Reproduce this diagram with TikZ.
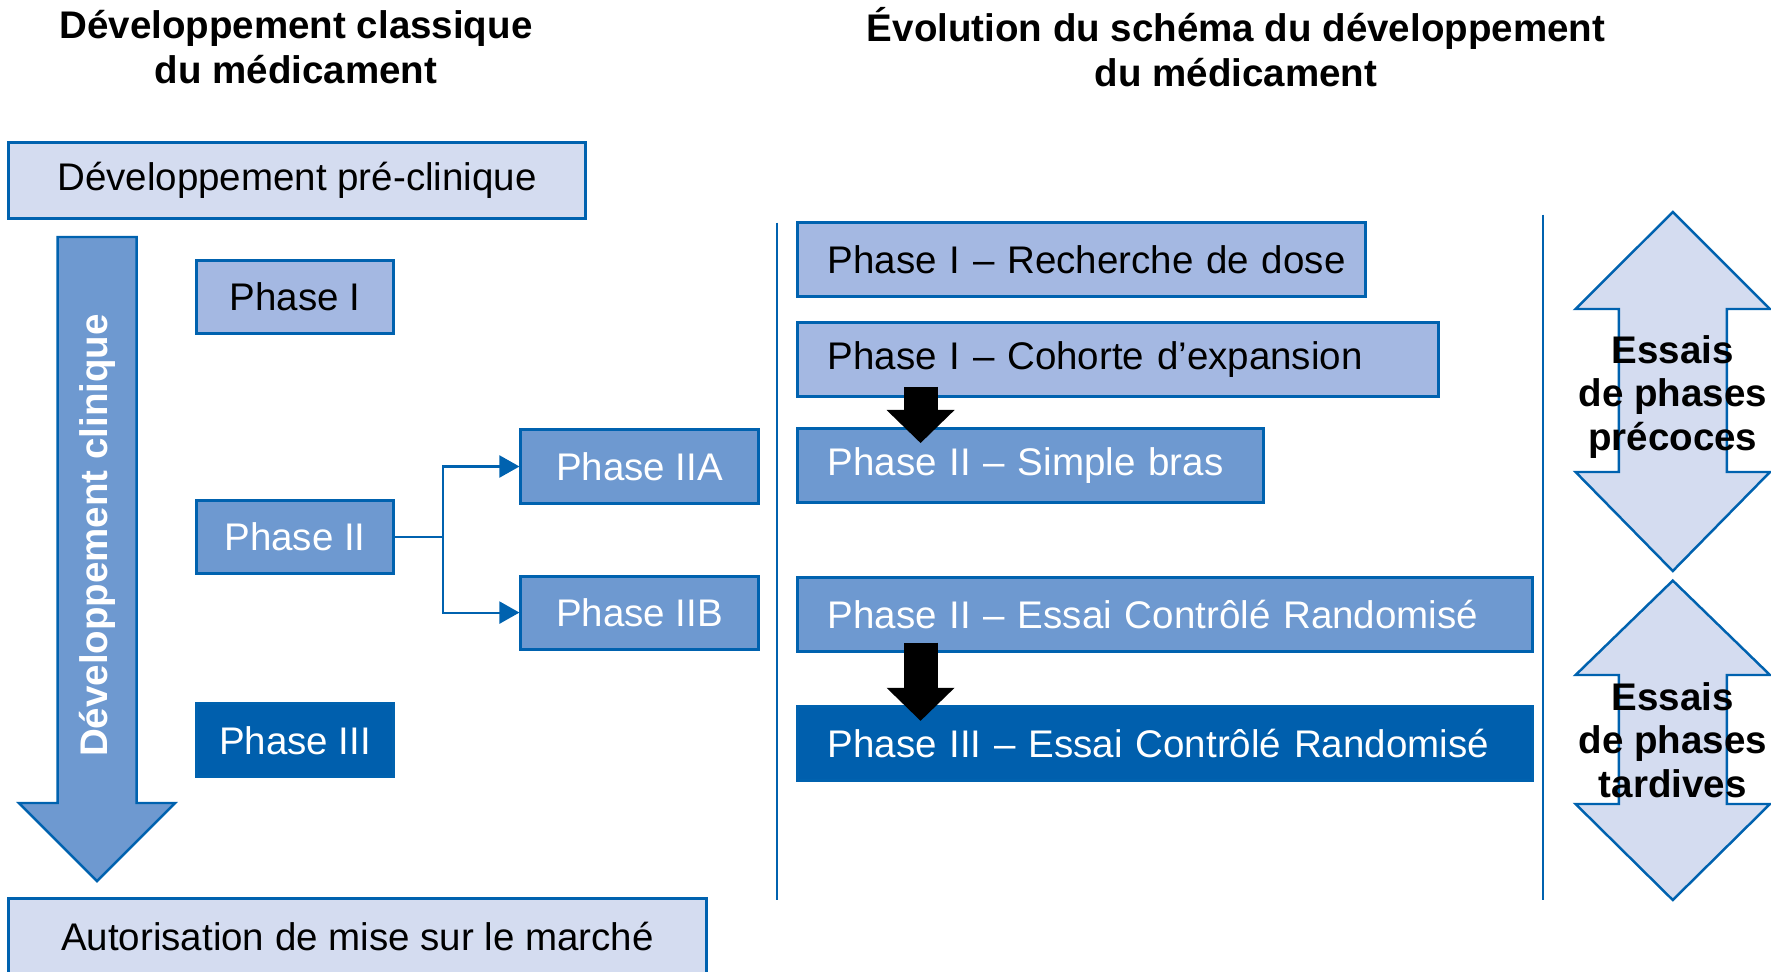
\documentclass[tikz,border=0pt]{standalone}
\usepackage{fontspec}
\setmainfont{Liberation Sans}
\usepackage{xcolor}
\usepackage{tikz}
\usetikzlibrary{positioning, arrows.meta}

\definecolor{lineblue}{HTML}{0062AF}
\definecolor{paleblue}{HTML}{D4DCF0}
\definecolor{lightblue}{HTML}{A4B8E2}
\definecolor{midblue}{HTML}{6E99D0}
\definecolor{darkblue}{HTML}{005FAD}

\newcommand{\phasefont}{\fontsize{10.95}{12.4}\selectfont}
\newcommand{\headfont}{\fontsize{10.95}{12.8}\selectfont\bfseries}

\begin{document}
\begin{tikzpicture}[
    x=0.01cm, y=0.01cm,
    % Define styles for the nodes and paths
        box/.style={draw=lineblue, line width=0.85pt, rectangle, inner sep=0pt, font=\phasefont},
        palebox/.style={box, fill=paleblue},
        lightbox/.style={box, fill=lightblue},
        midbox/.style={box, fill=midblue, text=white},
        darkbox/.style={box, fill=darkblue, text=white},
        phasebox/.style={minimum width=1.965cm, minimum height=0.73cm},
        splitbox/.style={minimum width=2.37cm, minimum height=0.73cm},
        rowbox/.style={anchor=north west, minimum height=0.74cm, inner xsep=0.3cm, text width=#1, align=left},
        textnode/.style={align=center, font=\headfont},
        bigshape/.style={draw=lineblue, line width=0.7pt, line join=miter},
        sepline/.style={draw=lineblue, line width=0.7pt},
        branch/.style={draw=lineblue, line width=0.6pt, -{Triangle[width=0.22cm, length=0.2cm]}},
        blackarrow/.style={line width=0.34cm, -{Triangle[width=0.68cm, length=0.33cm, line width=0pt]}}
    ]
        \useasboundingbox (0,0) rectangle (1771,-972);

        % Titles
        \node[textnode] (lefttitle) at (296,-47) {Développement classique\\du médicament};
        \node[textnode] (righttitle) at (1236,-47) {Évolution du schéma du développement\\du médicament};

        % Big arrow of the classic scheme
        \path[bigshape, fill=midblue] (57.6,-237) -- (136.7,-237) -- (136.7,-803) -- (175,-803)
            -- (97,-881) -- (19,-803) -- (57.6,-803) -- cycle;
        \node[textnode, text=white, rotate=90] (clin) at (97,-535.5) {Développement clinique};

        % Define the nodes (classic scheme)
        \node[palebox, minimum width=5.76cm, minimum height=0.75cm] (preclin) at (297,-180.5) {Développement pré-clinique};

        \node[lightbox, phasebox] (phaseone) at (295,-297) {Phase I};

        \node[midbox, phasebox, below=1.64cm of phaseone] (phasetwo) {Phase II};

        \node[darkbox, phasebox, below=1.27cm of phasetwo] (phasethree) {Phase III};

        \node[midbox, splitbox] (phasetwoa) at (639.5,-466.5) {Phase IIA};

        \node[midbox, splitbox, below=0.70cm of phasetwoa] (phasetwob) {Phase IIB};

        \node[palebox, minimum width=6.97cm, minimum height=0.76cm] (amm) at (357.5,-937) {Autorisation de mise sur le marché};

        % Split of phase II
        \draw[branch] (phasetwo.east) -- ++(48.6,0) |- (phasetwoa.west);
        \draw[branch] (phasetwo.east) -- ++(48.6,0) |- (phasetwob.west);

        % Separators
        \draw[sepline] (777,-222.5) -- (777,-900);
        \draw[sepline] (1543,-214.6) -- (1543,-900);

        % Define the nodes (new scheme)
        \node[lightbox, rowbox=5.08cm] (dose) at (796,-221.4) {\mbox{Phase I – Recherche de dose}};

        \node[lightbox, rowbox=5.81cm] (expansion) at (796,-320.8) {Phase I – Cohorte d’expansion};

        \node[midbox, rowbox=4.06cm] (singlearm) at (796,-427) {Phase II – Simple bras};

        \node[midbox, rowbox=6.75cm] (rcttwo) at (796,-576) {Phase II – Essai Contrôlé Randomisé};

        \node[darkbox, rowbox=6.75cm] (rctthree) at (796,-704.8) {Phase III – Essai Contrôlé Randomisé};

        % Draw the black arrows
        \draw[blackarrow] ([xshift=1.245cm, yshift=0.11cm]expansion.south west) -- ([xshift=1.245cm, yshift=-0.16cm]singlearm.north west);

        \draw[blackarrow] ([xshift=1.245cm, yshift=0.105cm]rcttwo.south west) -- ([xshift=1.245cm, yshift=-0.16cm]rctthree.north west);

        % Double arrows on the right
        \path[bigshape, fill=paleblue] (1672.8,-212) -- (1770,-309) -- (1726.8,-309) -- (1726.8,-472) -- (1770,-472)
            -- (1672.8,-571) -- (1575.6,-472) -- (1618.8,-472) -- (1618.8,-309) -- (1575.6,-309) -- cycle;
        \node[textnode, font=\phasefont\bfseries] (early) at (1672.8,-397) {Essais\\de phases\\précoces};

        \path[bigshape, fill=paleblue] (1672.8,-580.6) -- (1770,-675) -- (1726.8,-675) -- (1726.8,-804) -- (1770,-804)
            -- (1672.8,-900) -- (1575.6,-804) -- (1618.8,-804) -- (1618.8,-675) -- (1575.6,-675) -- cycle;
        \node[textnode, font=\phasefont\bfseries] (late) at (1672.8,-740) {Essais\\de phases\\tardives};
    \end{tikzpicture}
\end{document}
